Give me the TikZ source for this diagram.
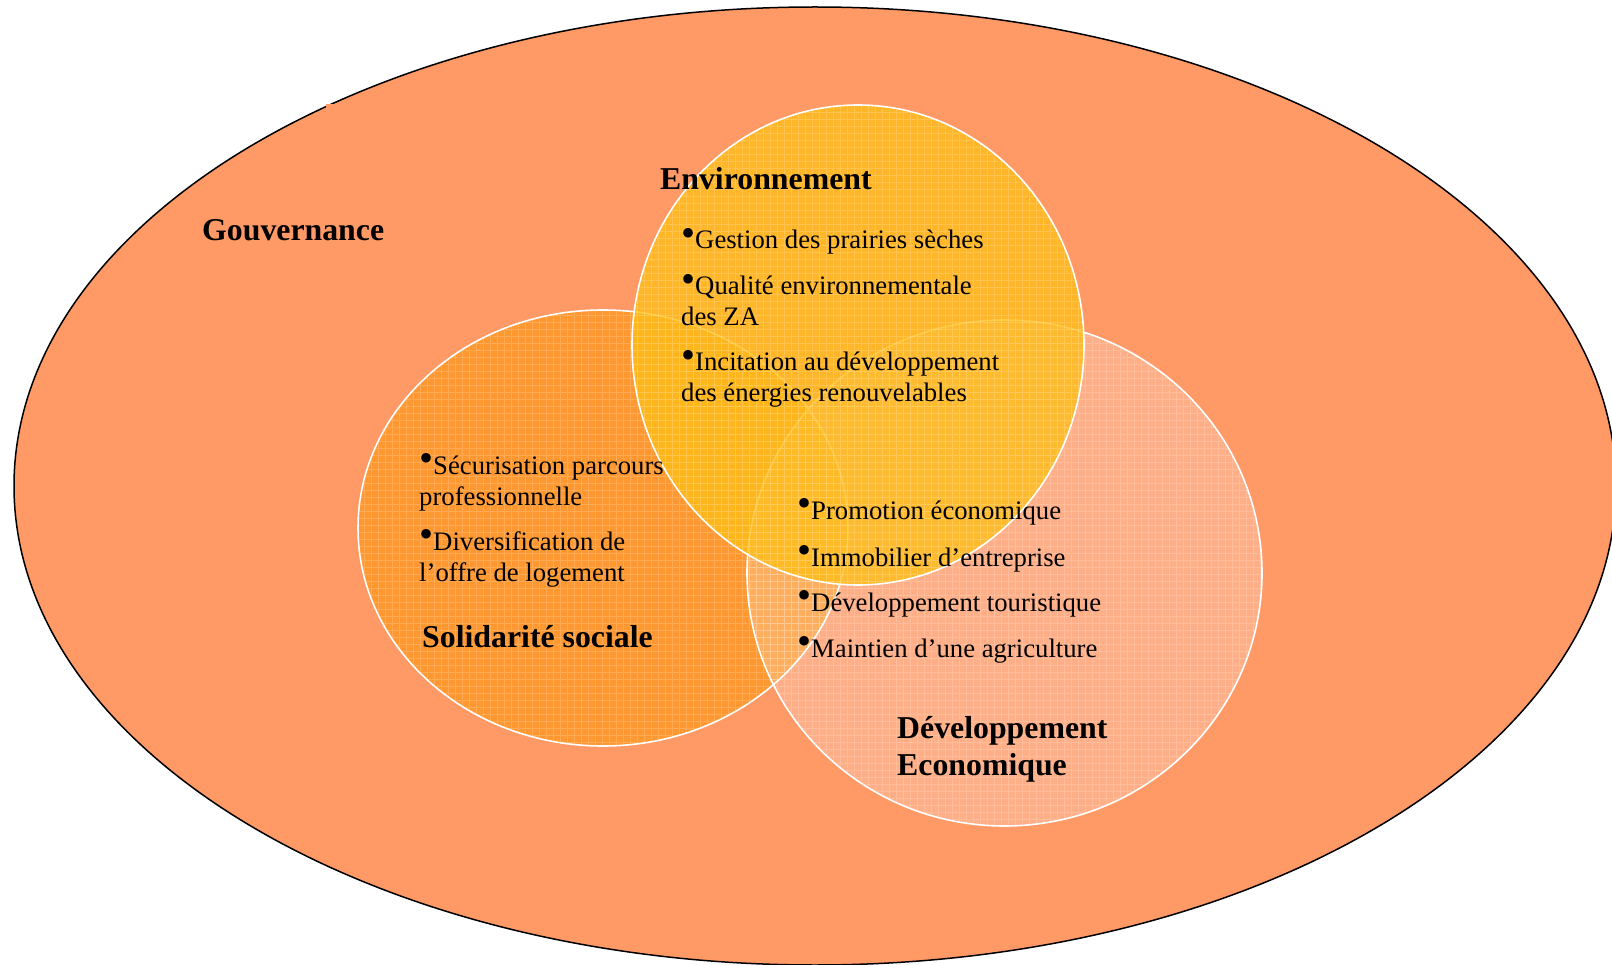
\documentclass[tikz,border=0pt]{standalone}
\usepackage{graphicx}
\usepackage{fontspec}
\setmainfont{Liberation Serif}
\definecolor{gouv}{RGB}{255,153,102}
\definecolor{solc}{RGB}{255,152,48}
\definecolor{envc}{RGB}{255,190,25}
\tikzset{
  body/.style={anchor=base west, inner sep=0pt, font=\fontsize{26.7}{31}\selectfont},
  head/.style={anchor=base west, inner sep=0pt, font=\fontsize{31.8}{36}\selectfont\bfseries},
  ring/.style={draw=white, line width=1.6pt},
  texture/.style={draw=white, line width=0.4pt, opacity=0.18},
}
\newcommand{\bul}{\raisebox{0.08em}{\scalebox{1.5}{•}}}
\begin{document}
\begin{tikzpicture}[x=1pt,y=-1pt]
\useasboundingbox (0,0) rectangle (1612,965);
% outer ellipse (Gouvernance)
\draw[line width=1.5pt, fill=gouv] (815,486) ellipse [x radius=801, y radius=479];
\fill[gouv] (326,104) rectangle (340,111);
% Solidarite sociale
\begin{scope}
  \clip (603,528) ellipse [x radius=245, y radius=218];
  \fill[solc] (603,528) ellipse [x radius=245, y radius=218];
  \draw[texture] (350,300) grid[step=7pt] (860,760);
\end{scope}
\draw[ring] (603,528) ellipse [x radius=245, y radius=218];
% Developpement economique
\begin{scope}
  \clip (1004.5,573) ellipse [x radius=257.5, y radius=253];
  \fill[white, opacity=0.22] (1004.5,573) ellipse [x radius=257.5, y radius=253];
  \draw[texture] (740,310) grid[step=7pt] (1270,830);
\end{scope}
\draw[ring] (1004.5,573) ellipse [x radius=257.5, y radius=253];
% Environnement
\begin{scope}
  \clip (858,345) ellipse [x radius=226, y radius=240];
  \fill[envc, opacity=0.8] (858,345) ellipse [x radius=226, y radius=240];
  \draw[texture] (625,100) grid[step=7pt] (1090,590);
\end{scope}
\draw[ring] (858,345) ellipse [x radius=226, y radius=240];
% texts
\node[head] (gouvT) at (202,241) {Gouvernance};
\node[head] (envT) at (660,190) {Environnement};
\node[body] (e1) at (681,249) {\bul Gestion des prairies sèches};
\node[body] (e2) at (681,295) {\bul Qualité environnementale};
\node[body] (e3) at (681,326) {des ZA};
\node[body] (e4) at (681,371) {\bul Incitation au développement};
\node[body] (e5) at (681,402) {des énergies renouvelables};
\node[body] (s1) at (419,474) {\bul Sécurisation parcours};
\node[body] (s2) at (419,505) {professionnelle};
\node[body] (s3) at (419,550) {\bul Diversification de};
\node[body] (s4) at (419,581) {l’offre de logement};
\node[head] (solT) at (422,647) {Solidarité sociale};
\node[body] (d1) at (797,519) {\bul Promotion économique};
\node[body] (d2) at (797,566) {\bul Immobilier d’entreprise};
\node[body] (d3) at (797,611) {\bul Développement touristique};
\node[body] (d4) at (797,657) {\bul Maintien d’une agriculture};
\node[head] (devT1) at (897,738) {Développement};
\node[head] (devT2) at (897,775) {Economique};
\end{tikzpicture}
\end{document}
